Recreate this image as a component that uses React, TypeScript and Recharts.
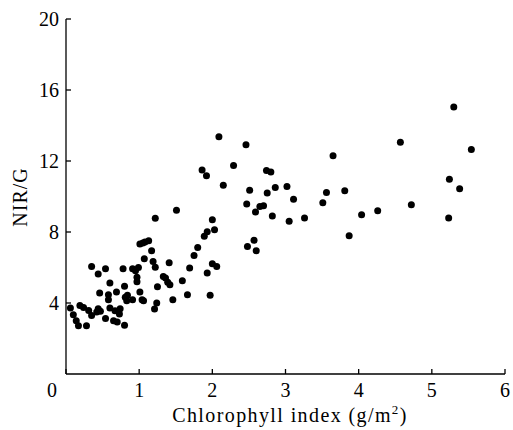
import { ScatterChart, Scatter, XAxis, YAxis } from "recharts";

// chlorophyll index (g/m2) and NIR/G ratio
const chlorophyll = [
  0.06, 0.1, 0.14, 0.17, 0.19, 0.24, 0.28, 0.31, 0.35, 0.35,
  0.44, 0.44, 0.42, 0.46, 0.47, 0.54, 0.54, 0.58, 0.6, 0.58,
  0.6, 0.65, 0.67, 0.69, 0.7, 0.73, 0.74, 0.78, 0.8, 0.8,
  0.81, 0.83, 0.84, 0.91, 0.91, 0.95, 0.97, 0.97, 0.99, 1.01,
  1.01, 1.05, 1.04, 1.06, 1.08, 1.13, 1.07, 1.17, 1.19, 1.22,
  1.22, 1.25, 1.21, 1.24, 1.33, 1.36, 1.39, 1.41, 1.42, 1.46,
  1.51, 1.59, 1.66, 1.69, 1.75, 1.8, 1.89, 1.93, 1.93, 1.97,
  2.0, 2.03, 2.0, 2.06, 2.48, 2.57, 2.6, 2.09, 2.46, 1.86,
  1.92, 2.29, 2.15, 2.51, 2.47, 2.74, 2.8, 2.75, 2.86, 3.02,
  3.11, 2.65, 2.7, 2.59, 2.82, 3.05, 3.26, 3.65, 3.56, 3.51,
  3.81, 4.04, 3.87, 4.26, 4.57, 4.72, 5.3, 5.24, 5.38, 5.54,
  5.23,
];
const nirG = [
  3.72, 3.34, 3.0, 2.72, 3.86, 3.75, 2.72, 3.58, 3.3, 6.06,
  5.63, 3.68, 3.49, 4.56, 3.53, 5.93, 3.12, 4.19, 5.13, 4.47,
  3.72, 3.0, 3.57, 4.62, 2.93, 3.38, 3.68, 5.93, 4.94, 2.74,
  4.32, 4.13, 4.43, 4.19, 5.93, 5.82, 5.45, 5.2, 6.0, 4.62,
  7.32, 7.38, 4.19, 4.13, 7.44, 7.51, 6.5, 6.95, 6.34, 6.01,
  8.78, 4.92, 3.66, 4.0, 5.5, 5.41, 5.17, 6.27, 5.03, 4.19,
  9.22, 5.26, 4.47, 5.97, 6.68, 7.13, 7.76, 8.02, 5.69, 4.43,
  8.69, 8.13, 6.21, 6.05, 7.19, 7.53, 6.95, 13.37, 12.92, 11.49,
  11.17, 11.74, 10.63, 10.35, 9.58, 11.46, 11.38, 10.2, 10.51, 10.56,
  9.85, 9.44, 9.48, 9.13, 8.9, 8.6, 8.79, 12.3, 10.23, 9.65,
  10.33, 8.97, 7.79, 9.2, 13.05, 9.54, 15.04, 10.97, 10.44, 12.65,
  8.79,
];

const xTicks = [0, 1, 2, 3, 4, 5, 6];
const yTicks = [4, 8, 12, 16, 20];

const data = chlorophyll.map((x, i) => ({ x, y: nirG[i] }));

const font = '"Liberation Serif", "Times New Roman", serif';
const textStyle = { fontFamily: font, fontSize: 20 };

function XTick({ x, y, payload }: any) {
  // the shared origin "0" sits left of the corner
  const shift = payload.value === 0 ? -14 : 0;
  return (
    <text x={x + shift} y={y} dy={14} textAnchor="middle" style={textStyle} fill="#000">
      {payload.value}
    </text>
  );
}

function YTick({ x, y, payload }: any) {
  return (
    <text x={x} y={y} dy={7} textAnchor="end" style={textStyle} fill="#000">
      {payload.value}
    </text>
  );
}

const xTitle = () => (
  <text x={290} y={422} textAnchor="middle" style={{ ...textStyle, letterSpacing: 1.4 }} fill="#000">
    Chlorophyll index (g/m
    <tspan dy={-8} style={{ fontSize: 13 }}>2</tspan>
    <tspan dy={8}>)</tspan>
  </text>
);

const yTitle = () => (
  <text
    x={27}
    y={197}
    transform="rotate(-90, 27, 197)"
    textAnchor="middle"
    style={{ ...textStyle, letterSpacing: 1 }}
    fill="#000"
  >
    NIR/G
  </text>
);

const axisStroke = { stroke: "#000", strokeWidth: 1.3 };

export default function App() {
  return (
    <div style={{ position: "absolute", left: 0, top: 0, width: 513, height: 430, background: "#fff" }}>
      <ScatterChart width={513} height={430} margin={{ top: 19, right: 8, bottom: 0, left: 0 }}>
        <XAxis
          type="number"
          dataKey="x"
          domain={[0, 6]}
          ticks={xTicks}
          height={56}
          axisLine={axisStroke}
          tickLine={axisStroke}
          tickSize={-5}
          tickMargin={14}
          tick={<XTick />}
          label={{ content: xTitle }}
        />
        <YAxis
          type="number"
          dataKey="y"
          domain={[0, 20]}
          ticks={yTicks}
          width={66}
          axisLine={axisStroke}
          tickLine={axisStroke}
          tickSize={-5}
          tickMargin={12}
          tick={<YTick />}
          label={{ content: yTitle }}
        />
        <Scatter
          data={data}
          isAnimationActive={false}
          shape={(p: any) => <circle cx={p.cx} cy={p.cy} r={3.5} fill="#000" />}
        />
      </ScatterChart>
    </div>
  );
}
